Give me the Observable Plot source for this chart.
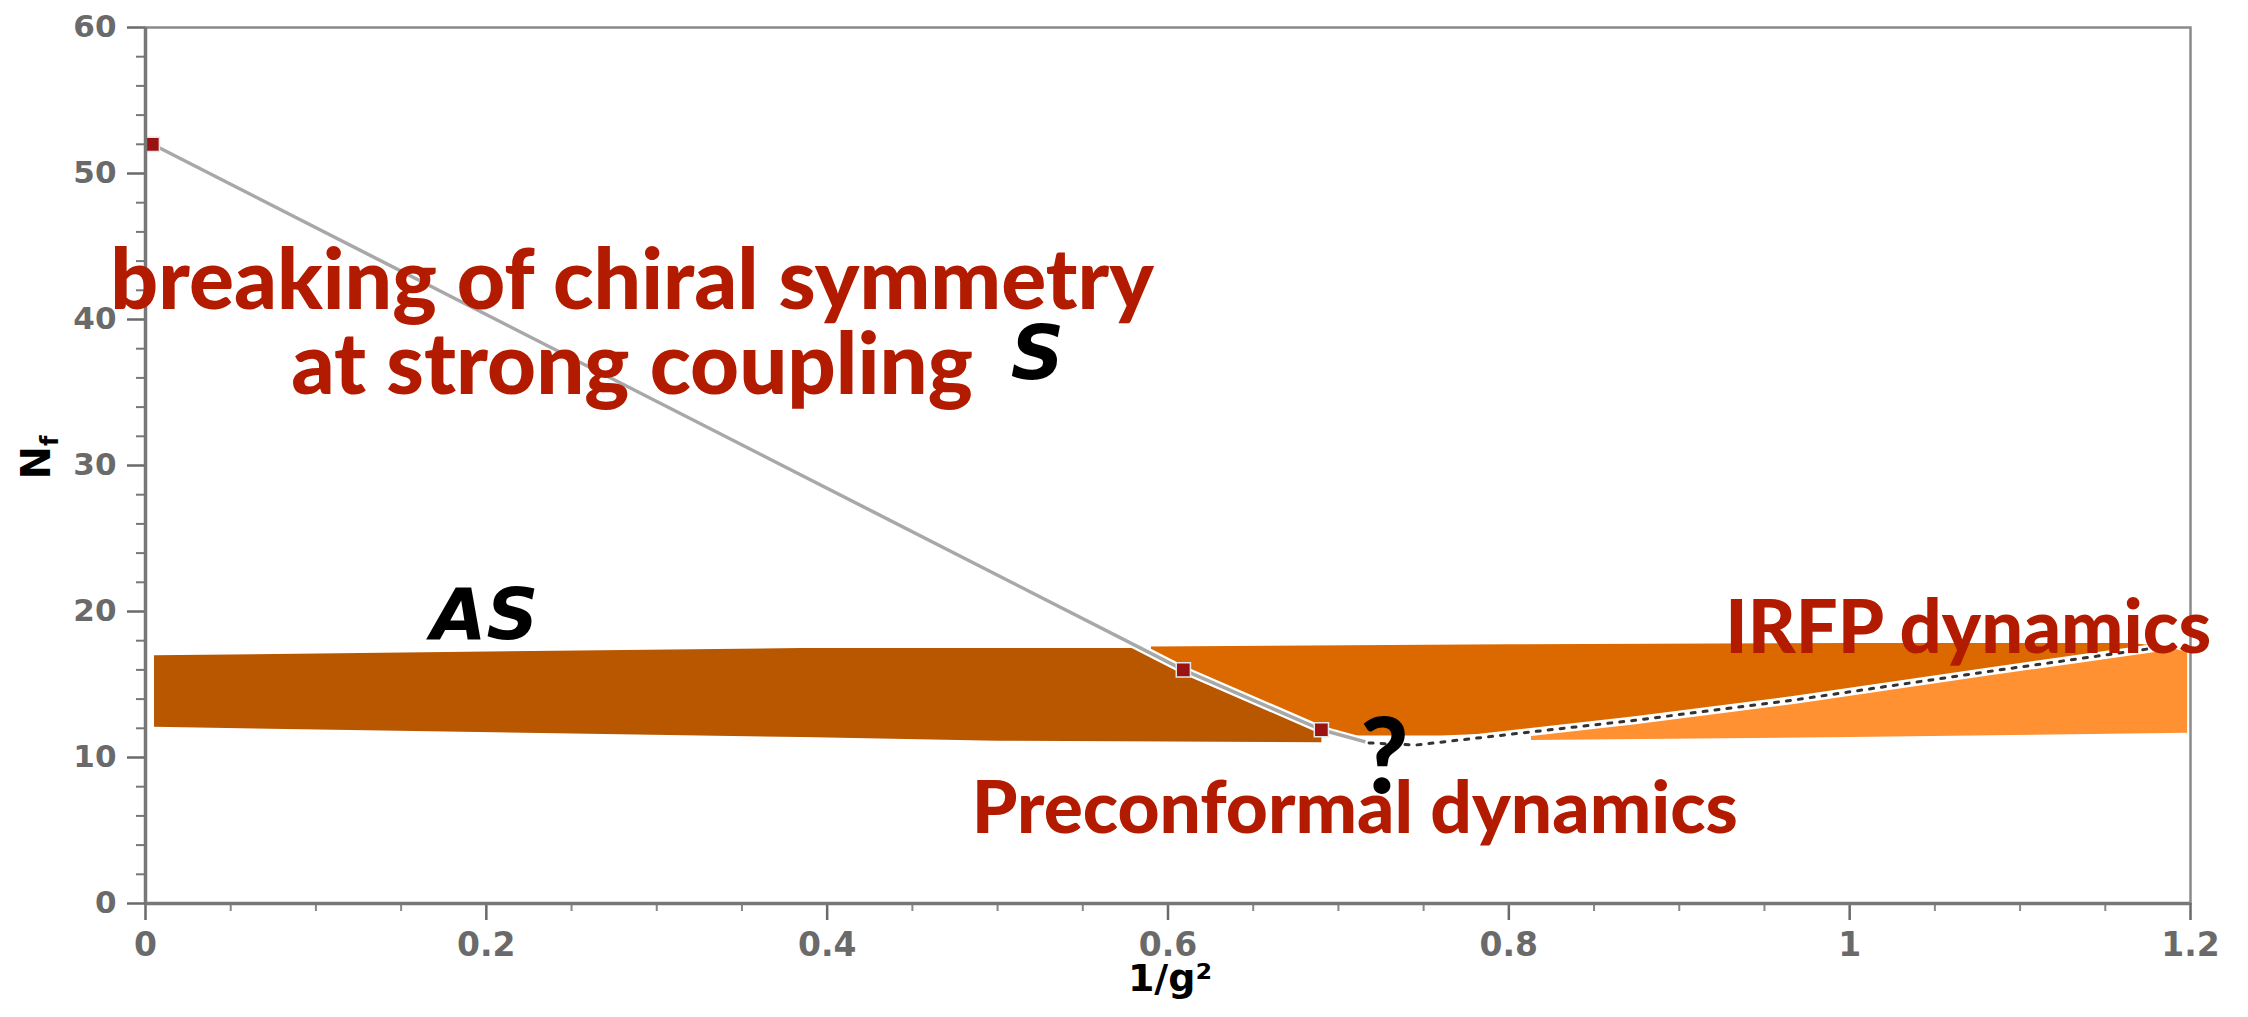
<!DOCTYPE html>
<html>
<head>
<meta charset="utf-8">
<script src="https://cdn.jsdelivr.net/npm/d3@7"></script>
<script src="https://cdn.jsdelivr.net/npm/@observablehq/plot@0.6"></script>
<style>
  html, body { margin: 0; padding: 0; background: #fff; }
  #chart svg { display: block; }
</style>
</head>
<body>
<div id="chart"></div>
<script>
// Phase boundary of the S representation (lattice points joined by a line)
const sLineX = [0.004, 0.609, 0.690, 0.718];
const sLineY = [52.0, 16.0, 11.9, 11.0];
const markerX = [0.004, 0.609, 0.690];
const markerY = [52.0, 16.0, 11.9];

// Boundary of the conformal window (dotted curve)
const irfpX = [0.718, 0.745, 0.813, 0.874, 0.968, 1.082, 1.185];
const irfpY = [11.0, 10.85, 11.75, 12.55, 13.95, 15.9, 17.6];

// Shaded regions for the AS representation
const brokenX = [0.005, 0.385, 0.584, 0.609, 0.690, 0.690, 0.500, 0.385, 0.005];
const brokenY = [17.0, 17.5, 17.5, 16.0, 11.9, 11.05, 11.15, 11.4, 12.1];
const preconfX = [0.590, 0.800, 1.000, 1.165, 1.185, 1.082, 0.968, 0.874, 0.813, 0.760, 0.700, 0.690, 0.609, 0.590];
const preconfY = [17.6, 17.75, 17.85, 17.85, 17.6, 15.9, 13.95, 12.55, 11.75, 11.5, 11.5, 11.9, 16.0, 17.1];
const irfpBandX = [0.813, 0.874, 0.968, 1.082, 1.185, 1.198, 1.198, 1.000, 0.813];
const irfpBandY = [11.75, 12.55, 13.95, 15.9, 17.6, 17.25, 11.7, 11.4, 11.2];

// Axis ticks
const xMajor = [0, 0.2, 0.4, 0.6, 0.8, 1, 1.2];
const xMinor = [0.05, 0.1, 0.15, 0.25, 0.3, 0.35, 0.45, 0.5, 0.55, 0.65, 0.7, 0.75, 0.85, 0.9, 0.95, 1.05, 1.1, 1.15];
const yMajor = [0, 10, 20, 30, 40, 50, 60];
const yMinor = [2, 4, 6, 8, 12, 14, 16, 18, 22, 24, 26, 28, 32, 34, 36, 38, 42, 44, 46, 48, 52, 54, 56, 58];

// Annotations
const noteText = ["breaking of chiral symmetry", "at strong coupling", "Preconformal dynamics", "IRFP dynamics"];
const noteX = [0.2855, 0.2855, 0.7096, 1.0696];
const noteY = [40.7, 34.9, 4.8, 17.15];
const noteSize = [84, 85, 73, 74];
const regionText = ["S", "AS"];
const regionX = [0.5234, 0.199];
const regionY = [35.9, 18.1];
const regionSize = [74, 72];

const pts = (xs, ys) => xs.map((x, i) => ({x, y: ys[i]}));
const notes = noteText.map((t, i) => ({text: t, x: noteX[i], y: noteY[i], size: noteSize[i]}));
const regions = regionText.map((t, i) => ({text: t, x: regionX[i], y: regionY[i], size: regionSize[i]}));

const chart = Plot.plot({
  width: 2248,
  height: 1017,
  marginLeft: 145,
  marginRight: 58,
  marginTop: 27,
  marginBottom: 114,
  x: {domain: [0, 1.2]},
  y: {domain: [0, 60]},
  style: {fontFamily: "DejaVu Sans", background: "#fff", color: "#000"},
  marks: [
    Plot.line(pts(brokenX, brokenY), {x: "x", y: "y", fill: "#b95600", stroke: "none", curve: "linear-closed"}),
    Plot.line(pts(preconfX, preconfY), {x: "x", y: "y", fill: "#dc6900", stroke: "none", curve: "linear-closed"}),
    Plot.line(pts(irfpBandX, irfpBandY), {x: "x", y: "y", fill: "#ff9132", stroke: "none", curve: "linear-closed"}),
    Plot.line(pts(sLineX, sLineY), {x: "x", y: "y", stroke: "#fff", strokeWidth: 8}),
    Plot.line(pts(sLineX, sLineY), {x: "x", y: "y", stroke: "#a8a8a8", strokeWidth: 3.5}),
    Plot.line(pts(irfpX, irfpY), {x: "x", y: "y", stroke: "#fff", strokeWidth: 8}),
    Plot.line(pts(irfpX, irfpY), {x: "x", y: "y", stroke: "#333", strokeWidth: 3, strokeDasharray: "4,8"}),
    Plot.dot(pts(markerX, markerY), {x: "x", y: "y", symbol: "square", r: 8, fill: "#9b1212", stroke: "#e6e6e6", strokeWidth: 1.5}),
    Plot.frame({stroke: "#8a8a8a", strokeWidth: 2.5}),
    Plot.axisY(yMajor, {tickSize: 18, tickPadding: 11, tickFormat: d => String(d), fontSize: 31, fontWeight: "bold", color: "#6a6a6a", strokeWidth: 2.5, label: null}),
    Plot.axisY(yMinor, {tickSize: 9, tickFormat: () => "", color: "#777", strokeWidth: 2, label: null}),
    Plot.axisX(xMajor, {tickSize: 17, tickPadding: 12, tickFormat: d => String(d), fontSize: 33, fontWeight: "bold", color: "#6a6a6a", strokeWidth: 2.5, label: null}),
    Plot.axisX(xMinor, {tickSize: 8, tickFormat: () => "", color: "#888", strokeWidth: 2, label: null}),
    Plot.ruleX([0], {stroke: "#777", strokeWidth: 3.5}),
    Plot.ruleY([0], {stroke: "#777", strokeWidth: 3.5}),
    Plot.text(["N"], {frameAnchor: "left", dx: -108, dy: 14, rotate: -90, fontSize: 40, fontWeight: "bold", fill: "#000"}),
    Plot.text(["1/g²"], {frameAnchor: "bottom", dx: 2, dy: 87, fontSize: 38, fontWeight: "bold", fill: "#000"}),
    Plot.text(regions, {x: "x", y: "y", text: "text", fontSize: "size", fontWeight: "bold", fontStyle: "italic", fill: "#000", lineAnchor: "bottom"}),
    Plot.text(["?"], {x: () => 0.727, y: () => 7.55, fontFamily: "Lato", fontSize: 104, fontWeight: 900, fill: "#000", lineAnchor: "bottom"}),
    Plot.text(notes, {x: "x", y: "y", text: "text", fontSize: "size", fontFamily: "Lato", fontWeight: 900, fill: "#b31b00", lineAnchor: "bottom"})
  ]
});

// Subscript f on the N axis title
d3.select(chart).selectAll("text")
  .filter(function () { return this.textContent === "N"; })
  .append("tspan").attr("dy", "0.3em").attr("font-size", "0.6em").text("f");

document.getElementById("chart").appendChild(chart);
</script>
</body>
</html>
